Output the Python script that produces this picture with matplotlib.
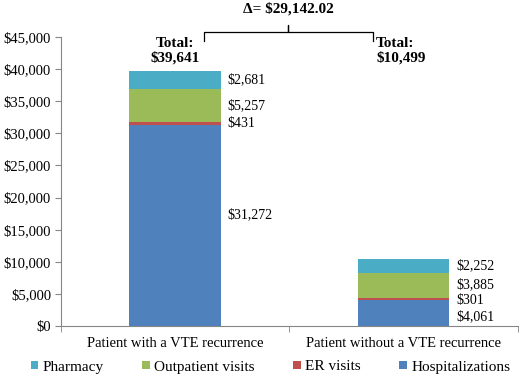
import matplotlib.pyplot as plt
import numpy as np

plt.rcParams["font.family"] = ["Liberation Serif", "DejaVu Serif"]

categories = ["Patient with a VTE recurrence", "Patient without a VTE recurrence"]
series = ["Hospitalizations", "ER visits", "Outpatient visits", "Pharmacy"]
hospitalizations = [31272, 4061]
er_visits = [431, 301]
outpatient = [5257, 3885]
pharmacy = [2681, 2252]
totals = ["$39,641", "$10,499"]
delta = "Δ= $29,142.02"
colors = ["#4F81BD", "#C0504D", "#9BBB59", "#4BACC6"]

fig = plt.figure(figsize=(5.2, 3.81), dpi=100)
ax = fig.add_axes([0.117, 0.144, 0.879, 0.759])

x = np.arange(len(categories))
bottom = np.zeros(len(categories))
bars = {}
for name, vals, c in zip(series, [hospitalizations, er_visits, outpatient, pharmacy], colors):
    bars[name] = ax.bar(x, vals, 0.4, bottom=bottom, color=c, label=name)
    bottom += np.array(vals)

# value labels (nudged like the original)
lab_left = {"Hospitalizations": 17300, "ER visits": 31500, "Outpatient visits": 34300, "Pharmacy": 38300}
lab_right = {"Hospitalizations": 1400, "ER visits": 3950, "Outpatient visits": 6400, "Pharmacy": 9400}
vals_all = {"Hospitalizations": hospitalizations, "ER visits": er_visits,
            "Outpatient visits": outpatient, "Pharmacy": pharmacy}
for name in series:
    v = vals_all[name]
    ax.text(x[0] + 0.23, lab_left[name], f"${v[0]:,}", fontsize=10, va="center", ha="left")
    ax.text(x[1] + 0.23, lab_right[name], f"${v[1]:,}", fontsize=10, va="center", ha="left")

ax.set_xlim(-0.5, 1.5)
ax.set_ylim(0, 45000)
ax.set_yticks(np.arange(0, 45001, 5000))
ax.set_yticklabels([f"${v:,}" for v in range(0, 45001, 5000)], fontsize=10.5)
ax.set_xticks(x)
ax.set_xticklabels(categories, fontsize=10.5)
ax.set_xticks([-0.5, 0.5, 1.5], minor=True)
ax.tick_params(axis="x", which="major", length=0, pad=8)
ax.tick_params(axis="x", which="minor", length=4, color="#868686", direction="out")
ax.tick_params(axis="y", length=4, color="#868686", pad=3)
for s in ["top", "right"]:
    ax.spines[s].set_visible(False)
for s in ["left", "bottom"]:
    ax.spines[s].set_color("#868686")

# totals
ax.text(x[0], 42900, "Total:\n" + totals[0], ha="center", va="center", fontsize=11,
        fontweight="bold", linespacing=1.1)
ax.text(0.88, 42900, "Total:\n" + totals[1], ha="left", va="center", fontsize=11,
        fontweight="bold", linespacing=1.1)

# brace
bx0, bx1, bm = 0.125, 0.865, 0.493
ytop, yend, ytip = 45800, 44400, 46900
ax.plot([bx0, bx0, bm, bm, bm, bx1, bx1], [yend, ytop, ytop, ytip, ytop, ytop, yend],
        color="black", lw=0.9, clip_on=False)
fig.text(288 / 520, 1 - 9 / 381, delta, ha="center", va="center", fontsize=11, fontweight="bold")

h = [bars[n] for n in ["Pharmacy", "Outpatient visits", "ER visits", "Hospitalizations"]]
fig.legend(h, ["Pharmacy", "Outpatient visits", "ER visits", "Hospitalizations"],
           loc="center", bbox_to_anchor=(0.52, 1 - 367 / 381), ncol=4, frameon=False,
           fontsize=11, handlelength=0.5, handleheight=0.5, handletextpad=0.3,
           columnspacing=2.5)

fig.savefig("out.png", dpi=100)
